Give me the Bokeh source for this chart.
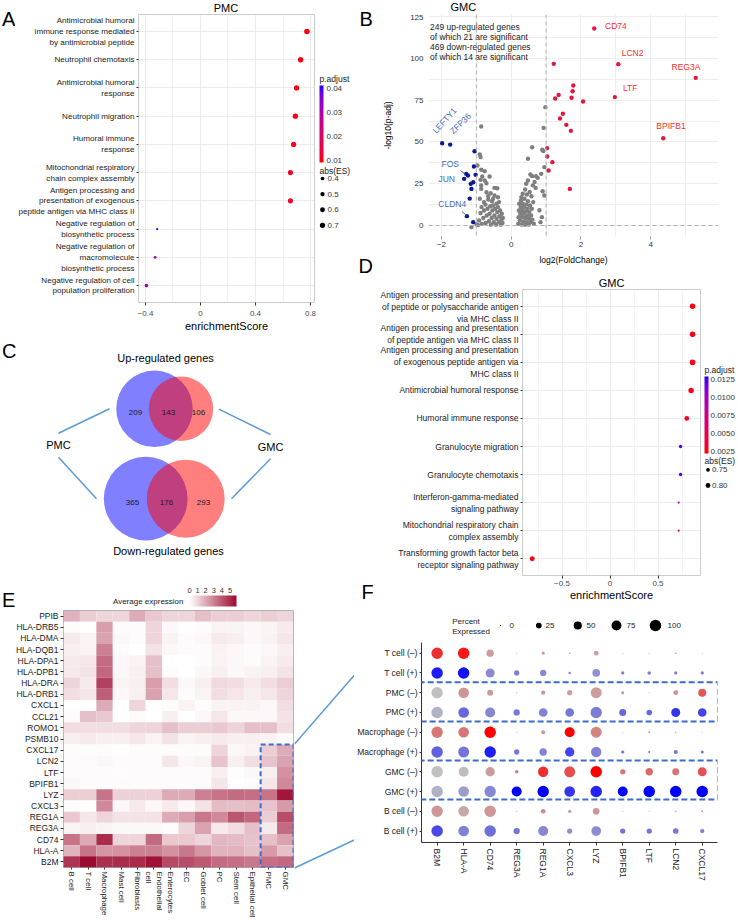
import numpy as np
import pandas as pd
from bokeh.plotting import figure
from bokeh.layouts import row, column
from bokeh.models import (ColumnDataSource, Range1d, FixedTicker, LinearColorMapper, ColorBar,
                          BoxAnnotation, Span)
from bokeh.core.properties import value
from bokeh.embed import file_html
from bokeh.resources import INLINE

FONT = "Liberation Sans"

# ======================= DATA =======================
# --- A: PMC GSEA ---
pmc_terms = [
    "Antimicrobial humoral\nimmune response mediated\nby antimicrobial peptide",
    "Neutrophil chemotaxis",
    "Antimicrobial humoral\nresponse",
    "Neutrophil migration",
    "Humoral immune\nresponse",
    "Mitochondrial respiratory\nchain complex assembly",
    "Antigen processing and\npresentation of exogenous\npeptide antigen via MHC class II",
    "Negative regulation of\nbiosynthetic process",
    "Negative regulation of\nmacromolecule\nbiosynthetic process",
    "Negative regulation of cell\npopulation proliferation",
]
pmc_es = [0.774, 0.728, 0.699, 0.690, 0.677, 0.654, 0.654, -0.315, -0.330, -0.393]
pmc_padj = [0.0100, 0.0102, 0.0108, 0.0110, 0.0113, 0.0118, 0.0120, 0.0400, 0.0330, 0.0310]
pmc_padj_breaks = [0.01, 0.02, 0.03, 0.04]
pmc_abs_breaks = [0.4, 0.5, 0.6, 0.7]
pmc_es_ticks = [-0.4, 0.0, 0.4, 0.8]

# --- B: GMC volcano ---
up_x = [2.38, 3.07, 5.29, 2.97, 4.36, 1.22, 1.78, 1.76, 1.36, 1.26, 1.73, 2.06, 1.48, 1.40, 1.58,
        1.71, 1.03, 1.03, 1.18, 1.07, 1.68]
up_y = [117.8, 96.5, 88.3, 76.8, 52.2, 96.7, 83.7, 80.3, 78.1, 76.0, 76.4, 74.2, 66.8, 64.0, 60.2,
        56.6, 46.3, 41.3, 37.9, 32.9, 21.9]
down_x = [-1.98, -1.75, -1.05, -1.07, -1.29, -1.24, -1.02, -1.35, -1.09, -1.16, -1.14, -1.19, -1.27, -1.09]
down_y = [49.2, 48.4, 44.4, 35.3, 30.9, 29.9, 30.3, 27.9, 25.9, 24.9, 21.9, 16.1, 5.6, 2.0]
ns_x = [-0.86, -0.90, -0.88, -0.97, -0.86, -0.76, -0.62, -0.83, -0.88, -0.76, -0.71, -0.86, -0.48, -0.40,
        -0.86, -0.71, -0.59, -0.48, -0.38, -0.90, -0.78, -0.66, -0.55, -0.42,
        -0.92, -0.88, -0.85, -0.84, -0.80, -0.78, -0.74, -0.73, -0.70, -0.68, -0.64, -0.62, -0.60, -0.58,
        -0.56, -0.54, -0.52, -0.50, -0.48, -0.46, -0.44, -0.42, -0.40, -0.38, -0.36, -0.34, -0.32, -0.30,
        -0.28, -0.27, -0.25, -0.24, -0.66, -0.52, -1.14, -0.99, -0.95, -0.35,
        0.98, 0.93, 0.60, 0.89, 0.92, 0.48, 0.95, 0.86, 0.55, 0.60, 0.71, 0.76, 0.48, 0.67, 0.43, 0.62,
        0.70, 0.90, 0.33, 0.29, 0.95, 0.81, 0.84, 0.88, 0.40, 0.53,
        0.20, 0.21, 0.22, 0.23, 0.25, 0.26, 0.27, 0.28, 0.30, 0.31, 0.32, 0.33, 0.35, 0.36, 0.37, 0.38,
        0.40, 0.41, 0.42, 0.43, 0.45, 0.46, 0.47, 0.48, 0.50, 0.51, 0.52, 0.54, 0.56, 0.57, 0.59, 0.61,
        0.58, 0.45, 0.65, 0.63]
ns_y = [59.2, 42.5, 40.9, 35.9, 33.3, 32.5, 29.3, 29.3, 27.3, 26.9, 25.3, 23.9, 22.5, 22.3,
        21.9, 19.9, 19.3, 17.9, 16.9, 16.0, 13.9, 15.5, 14.5, 13.0,
        3.0, 7.5, 11.0, 1.0, 4.5, 9.0, 12.5, 1.5, 6.0, 10.0, 2.5, 7.0, 11.5, 0.5,
        4.5, 9.0, 12.0, 2.0, 6.0, 10.0, 0.5, 4.0, 8.0, 11.0, 2.0, 5.5, 9.0, 0.5,
        3.5, 7.0, 1.5, 4.5, 17.5, 16.0, -1.0, 0.6, 0.2, 14.0,
        70.8, 58.4, 46.8, 45.3, 44.5, 39.9, 34.9, 30.9, 30.5, 29.5, 29.5, 28.5, 26.9, 26.0, 25.0, 24.0,
        22.5, 20.5, 19.0, 17.0, 17.9, 9.1, 2.0, 5.0, 21.5, 20.0,
        1.0, 5.0, 9.0, 13.0, 3.0, 7.0, 11.0, 15.0, 0.5, 5.0, 9.0, 13.0, 2.5, 7.0, 11.0, 16.0,
        0.5, 4.5, 8.5, 12.5, 2.0, 6.0, 10.0, 14.5, 0.5, 4.0, 8.0, 12.0, 2.0, 6.0, 10.0, 3.5,
        17.5, 18.5, 1.0, 14.0]
up_genes = ["CD74", "LCN2", "REG3A", "LTF", "BPIFB1"]
up_gene_x = [3.00, 3.48, 5.01, 3.41, 4.58]
up_gene_y = [119.4, 103.1, 94.9, 82.1, 59.8]
down_genes = ["LEFTY1", "ZFP36", "FOS", "JUN", "CLDN4"]
down_gene_x = [-1.91, -1.46, -1.75, -1.85, -1.69]
down_gene_y = [62.8, 61.0, 36.7, 27.6, 12.7]
down_gene_angle = [48, 44, 0, 0, 0]
volcano_note = ["249 up-regulated genes", "of which 21 are significant",
                "469 down-regulated genes", "of which 14 are significant"]

# --- C: Venn ---
venn_sets = ["PMC", "GMC"]
venn_up = [209, 143, 106]      # PMC only, shared, GMC only
venn_down = [365, 176, 293]

# --- D: GMC GSEA ---
gmc_terms = [
    "Antigen processing and presentation\nof peptide or polysaccharide antigen\nvia MHC class II",
    "Antigen processing and presentation\nof peptide antigen via MHC class II",
    "Antigen processing and presentation\nof exogenous peptide antigen via\nMHC class II",
    "Antimicrobial humoral response",
    "Humoral immune response",
    "Granulocyte migration",
    "Granulocyte chemotaxis",
    "Interferon-gamma-mediated\nsignaling pathway",
    "Mitochondrial respiratory chain\ncomplex assembly",
    "Transforming growth factor beta\nreceptor signaling pathway",
]
gmc_es = [0.860, 0.860, 0.860, 0.845, 0.800, 0.735, 0.735, 0.715, 0.715, -0.810]
gmc_padj = [0.0025, 0.0026, 0.0027, 0.0028, 0.0030, 0.0125, 0.0123, 0.0090, 0.0050, 0.0026]
gmc_padj_breaks = [0.0025, 0.0050, 0.0075, 0.0100, 0.0125]
gmc_abs_breaks = [0.75, 0.80]
gmc_es_ticks = [-0.5, 0.0, 0.5]

# --- E: heatmap of average expression ---
cell_types = ["B cell", "T cell", "Macrophage", "Mast cell", "Fibroblasts", "Endothelial\ncell",
              "Enterocytes", "EC", "Goblet cell", "PC", "Stem cell", "Epithelial cell", "PMC", "GMC"]
heat_genes = ["PPIB", "HLA-DRB5", "HLA-DMA", "HLA-DQB1", "HLA-DPA1", "HLA-DPB1", "HLA-DRA", "HLA-DRB1",
              "CXCL1", "CCL21", "ROMO1", "PSMB10", "CXCL17", "LCN2", "LTF", "BPIFB1", "LYZ", "CXCL3",
              "REG1A", "REG3A", "CD74", "HLA-A", "B2M"]
e_PPIB = [1.8, 1.2, 1.0, 1.0, 2.0, 1.3, 1.0, 1.0, 1.5, 1.2, 1.2, 1.0, 1.2, 1.0]
e_HLA_DRB5 = [0.1, 0.0, 2.3, 0.1, 0.1, 1.0, 0.2, 0.0, 0.1, 0.3, 0.3, 0.2, 0.3, 0.5]
e_HLA_DMA = [0.5, 0.3, 2.2, 0.2, 0.1, 1.0, 0.3, 0.1, 0.2, 0.5, 0.4, 0.2, 0.3, 0.6]
e_HLA_DQB1 = [0.4, 0.3, 3.0, 0.1, 0.0, 0.7, 0.2, 0.1, 0.1, 0.3, 0.2, 0.1, 0.2, 0.4]
e_HLA_DPA1 = [0.5, 0.6, 3.5, 0.2, 0.3, 1.5, 0.0, 0.0, 0.1, 0.3, 0.2, 0.1, 0.3, 0.5]
e_HLA_DPB1 = [0.5, 0.7, 3.6, 0.2, 0.4, 1.5, 0.1, 0.0, 0.2, 0.4, 0.2, 0.3, 0.4, 0.7]
e_HLA_DRA = [1.0, 0.5, 4.5, 0.3, 0.4, 2.3, 0.8, 0.2, 0.4, 0.9, 0.8, 0.5, 0.8, 1.2]
e_HLA_DRB1 = [0.8, 0.6, 3.8, 0.2, 0.4, 2.2, 0.6, 0.1, 0.3, 0.8, 0.6, 0.4, 0.6, 1.0]
e_CXCL1 = [0.0, 0.0, 2.0, 0.0, 1.0, 0.0, 0.1, 0.3, 0.1, 0.3, 0.3, 0.3, 0.2, 0.8]
e_CCL21 = [0.1, 1.5, 1.3, 0.0, 0.1, 0.0, 0.4, 0.0, 0.2, 0.6, 0.2, 0.2, 0.2, 0.7]
e_ROMO1 = [0.8, 0.8, 0.8, 0.8, 1.0, 1.0, 1.5, 1.2, 1.2, 1.3, 1.0, 1.5, 1.5, 0.8]
e_PSMB10 = [0.4, 0.5, 0.4, 0.4, 0.6, 0.3, 0.7, 0.3, 0.4, 0.5, 0.4, 0.4, 0.3, 0.1]
e_CXCL17 = [0.1, 0.05, 0.1, 0.0, 0.1, 0.1, 0.1, 0.1, 0.1, 1.0, 0.2, 0.3, 1.2, 2.0]
e_LCN2 = [0.1, 0.1, 0.2, 0.1, 0.1, 0.1, 0.6, 0.2, 0.3, 1.4, 0.4, 0.8, 1.4, 2.2]
e_LTF = [0.1, 0.1, 0.1, 0.05, 0.1, 0.1, 0.1, 0.1, 0.1, 0.4, 0.05, 0.2, 0.4, 2.6]
e_BPIFB1 = [0.2, 0.1, 0.1, 0.1, 0.1, 0.1, 0.1, 0.1, 0.1, 0.6, 0.0, 0.1, 0.6, 2.8]
e_LYZ = [1.2, 1.2, 3.3, 1.1, 1.1, 1.1, 2.0, 2.0, 3.0, 3.3, 3.5, 3.4, 3.3, 5.5]
e_CXCL3 = [0.1, 0.0, 2.8, 0.2, 0.5, 0.2, 0.5, 0.2, 0.7, 1.6, 1.5, 1.6, 1.4, 2.4]
e_REG1A = [1.3, 0.6, 1.0, 0.7, 0.7, 0.7, 2.0, 2.3, 3.2, 2.8, 4.0, 3.6, 1.2, 4.2]
e_REG3A = [0.3, 0.4, 0.3, 0.2, 0.2, 0.2, 0.1, 1.0, 2.2, 0.5, 0.8, 1.5, 0.5, 3.5]
e_CD74 = [3.3, 2.0, 5.0, 1.0, 1.0, 3.5, 1.3, 1.3, 1.0, 1.7, 1.6, 1.4, 1.5, 2.2]
e_HLA_A = [1.8, 3.3, 2.5, 2.6, 3.0, 3.0, 2.6, 3.2, 2.5, 1.8, 1.8, 1.5, 2.4, 1.5]
e_B2M = [4.8, 5.8, 4.9, 5.0, 5.0, 5.6, 4.3, 4.2, 3.9, 3.5, 3.4, 3.2, 3.4, 3.6]
heat_rows = [e_PPIB, e_HLA_DRB5, e_HLA_DMA, e_HLA_DQB1, e_HLA_DPA1, e_HLA_DPB1, e_HLA_DRA, e_HLA_DRB1,
             e_CXCL1, e_CCL21, e_ROMO1, e_PSMB10, e_CXCL17, e_LCN2, e_LTF, e_BPIFB1, e_LYZ, e_CXCL3,
             e_REG1A, e_REG3A, e_CD74, e_HLA_A, e_B2M]
heat_breaks = [0, 1, 2, 3, 4, 5]

# --- F: split dot plot ---
dot_genes = ["B2M", "HLA-A", "CD74", "REG3A", "REG1A", "CXCL3", "LYZ", "BPIFB1", "LTF", "LCN2", "CXCL17"]
dot_groups = ["T cell (–)", "T cell (+)", "PMC (–)", "PMC (+)", "Macrophage (–)", "Macrophage (+)",
              "GMC (–)", "GMC (+)", "B cell (–)", "B cell (+)"]
pct_T_neg = [100, 100, 41, 1, 8, 2, 17, 1, 1, 2, 1]
pct_T_pos = [100, 100, 61, 21, 30, 5, 45, 8, 10, 8, 8]
pct_PMC_neg = [97, 86, 27, 1, 14, 21, 91, 7, 1, 17, 48]
pct_PMC_pos = [100, 86, 76, 30, 57, 57, 97, 37, 24, 61, 57]
pct_Mac_neg = [97, 86, 100, 0.5, 12, 76, 91, 0.5, 3, 2, 0.5]
pct_Mac_pos = [100, 91, 100, 21, 41, 66, 81, 8, 3, 12, 7]
pct_GMC_neg = [100, 76, 66, 10, 81, 91, 100, 21, 41, 37, 61]
pct_GMC_pos = [100, 86, 97, 76, 100, 86, 100, 76, 100, 100, 100]
pct_B_neg = [100, 86, 100, 1, 17, 8, 34, 0.5, 1, 2, 3]
pct_B_pos = [100, 86, 100, 30, 76, 21, 71, 21, 21, 24, 14]
exp_T_neg = [0.75, 0.88, 0.18, 0.15, 0.20, 0.15, 0.18, 0.15, 0.15, 0.18, 0.15]
exp_T_pos = [0.85, 0.90, 0.28, 0.35, 0.30, 0.30, 0.25, 0.35, 0.35, 0.35, 0.35]
exp_PMC_neg = [0.00, 0.22, 0.22, 0.20, 0.22, 0.18, 0.18, 0.25, 0.20, 0.25, 0.55]
exp_PMC_pos = [0.08, 0.45, 0.30, 0.38, 0.33, 0.38, 0.35, 0.45, 0.45, 0.72, 0.65]
exp_Mac_neg = [0.38, 0.38, 1.00, 0.15, 0.22, 1.00, 0.32, 0.15, 0.20, 0.20, 0.15]
exp_Mac_pos = [0.50, 0.40, 0.85, 0.38, 0.33, 0.65, 0.33, 0.40, 0.40, 0.40, 0.40]
exp_GMC_neg = [0.00, 0.02, 0.18, 0.35, 0.75, 0.60, 1.00, 0.40, 0.45, 0.40, 0.58]
exp_GMC_pos = [0.08, 0.18, 0.30, 1.00, 1.00, 0.72, 0.82, 1.00, 1.00, 1.00, 1.00]
exp_B_neg = [0.22, 0.12, 0.22, 0.20, 0.28, 0.20, 0.22, 0.20, 0.20, 0.20, 0.25]
exp_B_pos = [0.62, 0.33, 0.42, 0.38, 0.30, 0.25, 0.28, 0.40, 0.40, 0.38, 0.35]
dot_pct = [pct_T_neg, pct_T_pos, pct_PMC_neg, pct_PMC_pos, pct_Mac_neg, pct_Mac_pos,
           pct_GMC_neg, pct_GMC_pos, pct_B_neg, pct_B_pos]
dot_exp = [exp_T_neg, exp_T_pos, exp_PMC_neg, exp_PMC_pos, exp_Mac_neg, exp_Mac_pos,
           exp_GMC_neg, exp_GMC_pos, exp_B_neg, exp_B_pos]
pct_breaks = [0, 25, 50, 75, 100]


# ======================= HELPERS =======================
def hex2rgb(h):
    return np.array([int(h[i:i + 2], 16) for i in (1, 3, 5)], float)


def rgb_palette(c0, c1, n=256):
    a, b = hex2rgb(c0), hex2rgb(c1)
    return ["#%02x%02x%02x" % tuple(np.round(a + (b - a) * t).astype(int)) for t in np.linspace(0, 1, n)]


def lab_palette(c0, c1, n=256):
    M = np.array([[0.4124564, 0.3575761, 0.1804375], [0.2126729, 0.7151522, 0.0721750],
                  [0.0193339, 0.1191920, 0.9503041]])
    wp = np.array([0.95047, 1.0, 1.08883])
    d = 6 / 29

    def lin(c):
        return np.where(c <= 0.04045, c / 12.92, ((c + 0.055) / 1.055) ** 2.4)

    def delin(c):
        c = np.clip(c, 0, 1)
        return np.where(c <= 0.0031308, 12.92 * c, 1.055 * c ** (1 / 2.4) - 0.055)

    def f(t):
        return np.where(t > d ** 3, np.cbrt(t), t / (3 * d * d) + 4 / 29)

    def finv(t):
        return np.where(t > d, t ** 3, 3 * d * d * (t - 4 / 29))

    def to_lab(hx):
        fx, fy, fz = f(M @ lin(hex2rgb(hx) / 255) / wp)
        return np.array([116 * fy - 16, 500 * (fx - fy), 200 * (fy - fz)])

    def from_lab(lab):
        fy = (lab[0] + 16) / 116
        xyz = np.array([finv(fy + lab[1] / 500), finv(fy), finv(fy - lab[2] / 200)]) * wp
        return delin(np.linalg.inv(M) @ xyz)

    l0, l1 = to_lab(c0), to_lab(c1)
    out = []
    for t in np.linspace(0, 1, n):
        r, g, b = np.round(from_lab(l0 * (1 - t) + l1 * t) * 255).astype(int)
        out.append("#%02x%02x%02x" % (r, g, b))
    return out


def base(p):
    p.background_fill_color = "white"
    p.border_fill_color = "white"
    p.outline_line_color = None
    p.grid.visible = False
    return p


def strip(x0, y0, w, h):
    """a figure whose frame is its whole canvas; its data units are page pixels (y down)"""
    p = figure(width=w, height=h, x_range=Range1d(x0, x0 + w), y_range=Range1d(y0 + h, y0),
               output_backend="svg", toolbar_location=None, title=None, frame_align=False,
               x_axis_location=None, y_axis_location=None,
               min_border_left=0, min_border_right=0, min_border_top=0, min_border_bottom=0)
    return base(p)


def main_fig(cx, cy, w, h, fl, ft, fr, fb, x0, x1, y0, y1):
    p = figure(width=w, height=h, x_range=Range1d(x0, x1), y_range=Range1d(y0, y1),
               output_backend="svg", toolbar_location=None, title=None, frame_align=False,
               min_border_left=fl - cx, min_border_top=ft - cy,
               min_border_right=cx + w - fr, min_border_bottom=cy + h - fb)
    return base(p)


def stext(p, x, y, s, size=8.5, color="#1a1a1a", align="left", angle=0.0):
    p.text(x=[x], y=[y], text=[s], angle=angle, text_font=value(FONT), text_font_size=value(f"{size}px"),
           text_color=color, text_align=align, text_baseline="middle")


def letter(p, x, ymid, s):
    stext(p, x, ymid, s, size=20, color="#000000")


def style_axis(ax, size, color="#1a1a1a", tick=3, standoff=3):
    ax.major_label_text_font = FONT
    ax.major_label_text_font_size = f"{size}px"
    ax.major_label_text_color = color
    ax.axis_label_text_font = FONT
    ax.axis_label_text_font_style = "normal"
    ax.axis_label_text_color = "#000000"
    ax.major_tick_out = tick
    ax.major_tick_in = 0
    ax.major_tick_line_color = "#333333" if tick > 0 else None
    ax.minor_tick_line_color = None
    ax.major_label_standoff = standoff


def bar(p, mapper, left, top, w, h, orientation="vertical"):
    """colour bar placed at page pixels inside a strip figure"""
    x0 = p.x_range.start
    ybot = p.y_range.start
    cb = ColorBar(color_mapper=mapper, orientation=orientation, width=w, height=h,
                  location=(left - x0, ybot - (top + h)), padding=0, margin=0,
                  ticker=FixedTicker(ticks=[]), bar_line_color=None, major_tick_line_color=None,
                  minor_tick_line_color=None, major_label_text_font_size="0px",
                  background_fill_alpha=0, title=None, label_standoff=0)
    p.add_layout(cb, "center")


def dashed_box(p, left, right, top, bottom, dash):
    p.add_layout(BoxAnnotation(left=left, right=right, top=top, bottom=bottom,
                               fill_color=None, fill_alpha=0, line_color="#3C6DCB", line_alpha=1.0,
                               line_width=2, line_dash=dash))


def enrich_panel(geo, terms, es, padj, ticks, minor, overrides, mapper, size_fn, ylab_size):
    p = main_fig(*geo)
    p.outline_line_color = "#cccccc"
    p.grid.visible = True
    p.xaxis.ticker = FixedTicker(ticks=ticks, minor_ticks=minor)
    p.xaxis.major_label_overrides = overrides
    p.yaxis.ticker = FixedTicker(ticks=list(range(len(terms))))
    p.yaxis.major_label_overrides = {i: s for i, s in enumerate(terms)}
    p.xgrid.grid_line_color = "#ebebeb"
    p.xgrid.minor_grid_line_color = "#f3f3f3"
    p.ygrid.grid_line_color = "#ebebeb"
    style_axis(p.yaxis[0], ylab_size, "#1a1a1a", tick=2, standoff=2)
    style_axis(p.xaxis[0], 8, "#4d4d4d", tick=3, standoff=4)
    p.xaxis.axis_line_color = None
    p.yaxis.axis_line_color = None
    p.xaxis.axis_label = "enrichmentScore"
    p.xaxis.axis_label_text_font_size = "11px"
    p.xaxis.axis_label_standoff = 1
    src = ColumnDataSource(dict(es=es, y=list(range(len(terms))), padj=padj,
                                size=[size_fn(v) for v in es]))
    p.scatter("es", "y", size="size", source=src, line_color=None,
              fill_color={"field": "padj", "transform": mapper})
    return p


# ======================= A =======================
aminA, amaxA = min(abs(v) for v in pmc_es), max(abs(v) for v in pmc_es)


def sizeA(v):
    t = min(max((abs(v) - aminA) / (amaxA - aminA), 0), 1)
    return 2.3 + 3.3 * np.sqrt(t)


lowA, highA = 0.00904, 0.04125
mapA = LinearColorMapper(palette=lab_palette("#FF0000", "#0000FF"), low=lowA, high=highA)
pA = enrich_panel((15, 14, 303, 321, 137, 14, 314, 302, -0.4506, 0.8290, 9.6, -0.6),
                  pmc_terms, pmc_es, pmc_padj, pmc_es_ticks, [-0.2, 0.2, 0.6], {}, mapA, sizeA, 8.1)
pA_letter = strip(0, 0, 15, 335)
letter(pA_letter, 1.5, 18.8, "A")
pA_title = strip(15, 0, 303, 14)
stext(pA_title, 225.5, 7.0, "PMC", size=11, color="#000000", align="center")
pA_leg = strip(318, 0, 36, 335)
barA = (319, 85, 4, 77)
bar(pA_leg, mapA, *barA)
stext(pA_leg, 319, 78, "p.adjust", size=8.5)
for v in pmc_padj_breaks:
    yy = barA[1] + barA[3] - (v - lowA) / (highA - lowA) * barA[3]
    stext(pA_leg, 326, yy, f"{v:.2f}", size=8, color="#333333")
stext(pA_leg, 319, 170, "abs(ES)", size=8.5)
legA_y = [178 + 15.6 * k for k in range(len(pmc_abs_breaks))]
pA_leg.scatter([322] * len(pmc_abs_breaks), legA_y, size=[sizeA(v) for v in pmc_abs_breaks],
               fill_color="#000000", line_color=None)
for v, yy in zip(pmc_abs_breaks, legA_y):
    stext(pA_leg, 327, yy, f"{v:.1f}", size=8, color="#333333")

# ======================= C =======================
pC = strip(0, 335, 354, 245)
k_up, k_dn = 2.04, 1.80
r_up = [k_up * np.sqrt(venn_up[0] + venn_up[1]), k_up * np.sqrt(venn_up[1] + venn_up[2])]
r_dn = [k_dn * np.sqrt(venn_down[0] + venn_down[1]), k_dn * np.sqrt(venn_down[1] + venn_down[2])]
pC.circle(x=[154, 145.2], y=[408.3, 498.2], radius=[r_up[0], r_dn[0]],
          fill_color="#0000FF", fill_alpha=0.5, line_color=None)
pC.circle(x=[180.5, 185.2], y=[408.3, 498.2], radius=[r_up[1], r_dn[1]],
          fill_color="#FF0000", fill_alpha=0.5, line_color=None)
pC.text(x=[135, 168, 198, 132, 166, 203], y=[412, 412, 412, 502, 502, 502],
        text=[str(v) for v in venn_up + venn_down], text_font=value(FONT), text_font_size=value("8px"),
        text_color="#1a1a1a", text_align="center", text_baseline="middle")
pC.segment(x0=[58, 58, 218.3, 270], y0=[432.7, 456.7, 408.7, 458.3],
           x1=[109, 96, 270, 231], y1=[408.3, 498.3, 434, 498.3], line_color="#5B9BD5", line_width=1.5)
stext(pC, 165, 357, "Up-regulated genes", size=11, color="#000000", align="center")
stext(pC, 168, 550, "Down-regulated genes", size=11, color="#000000", align="center")
stext(pC, 58, 444, venn_sets[0], size=11, color="#000000", align="center")
stext(pC, 270, 446, venn_sets[1], size=11, color="#000000", align="center")
letter(pC, 1.5, 350.5, "C")

# ======================= E =======================
pE_top = strip(0, 580, 354, 30)
letter(pE_top, 1.5, 599, "E")
mapE = LinearColorMapper(palette=rgb_palette("#FFFFFF", "#9C0A2E"), low=0, high=5.8)
barE = (189, 595, 47, 11)
bar(pE_top, mapE, *barE, orientation="horizontal")
for v in heat_breaks:
    stext(pE_top, barE[0] + v / 5.8 * barE[2], 589.5, str(v), size=7.5, color="#333333", align="center")
stext(pE_top, 183, 600.5, "Average expression", size=8, align="right")

pE = main_fig(0, 610, 294, 310, 63, 610, 293, 868, 0, 14, 23, 0)
pE.outline_line_color = "#a6a6a6"
recs = []
for gi, gname in enumerate(heat_genes):
    for ci, cname in enumerate(cell_types):
        recs.append(dict(x=ci + 0.5, y=gi + 0.5, v=heat_rows[gi][ci]))
heat_df = pd.DataFrame(recs)
pE.rect(x="x", y="y", width=1, height=1, source=ColumnDataSource(heat_df),
        fill_color={"field": "v", "transform": mapE}, line_color=None)
pE.xaxis.ticker = FixedTicker(ticks=[i + 0.5 for i in range(len(cell_types))])
pE.xaxis.major_label_overrides = {i + 0.5: s for i, s in enumerate(cell_types)}
pE.yaxis.ticker = FixedTicker(ticks=[i + 0.5 for i in range(len(heat_genes))])
pE.yaxis.major_label_overrides = {i + 0.5: s for i, s in enumerate(heat_genes)}
pE.xaxis.major_label_orientation = "vertical"
style_axis(pE.xaxis[0], 7.9, "#1a1a1a", tick=2, standoff=2)
style_axis(pE.yaxis[0], 8.5, "#1a1a1a", tick=3, standoff=2)
pE.xaxis.axis_line_color = None
pE.yaxis.axis_line_color = None
n_pmc = cell_types.index("PMC")
n_box = heat_genes.index("CXCL17")
dashed_box(pE, n_pmc, len(cell_types), n_box, len(heat_genes), "5 3")

# connector lines from E's box corners toward F's first / last rows
row_h = (868 - 610) / len(heat_genes)
box_tr = (293.0, 610 + n_box * row_h)
box_br = (293.0, 868.0)
F_first = (373.0, 652.7)
F_last = (373.0, 652.7 + 19.76 * (len(dot_groups) - 1))
pE_line = strip(294, 610, 60, 310)
xs0, xs1, ys0, ys1 = [], [], [], []
for (ax, ay), (bx, by) in ((box_tr, F_first), (box_br, F_last)):
    for xx, lst_x, lst_y in ((294.0, xs0, ys0), (354.0, xs1, ys1)):
        lst_x.append(xx)
        lst_y.append(ay + (by - ay) * (xx - ax) / (bx - ax))
pE_line.segment(x0=xs0, y0=ys0, x1=xs1, y1=ys1, line_color="#5B9BD5", line_width=1.5)

# ======================= B =======================
pB_letter = strip(354, 0, 26, 276)
letter(pB_letter, 359, 18.8, "B")
letter(pB_letter, 358, 265.5, "D")
pB_title = strip(380, 0, 358, 14)
stext(pB_title, 450, 6.8, "GMC", size=11, color="#000000")

pB = main_fig(380, 14, 358, 262, 427, 14, 718, 236, -2.3714, 5.9429, -6.579, 126.20)
pB.grid.visible = True
pB.xgrid.ticker = FixedTicker(ticks=[-2, -1, 0, 1, 2, 3, 4, 5])
pB.ygrid.ticker = FixedTicker(ticks=[0, 12.5, 25, 37.5, 50, 62.5, 75, 87.5, 100, 112.5, 125])
pB.grid.grid_line_color = "#eeeeee"
pB.xaxis.ticker = FixedTicker(ticks=[-2, 0, 2, 4])
pB.yaxis.ticker = FixedTicker(ticks=[0, 25, 50, 75, 100, 125])
style_axis(pB.xaxis[0], 8, "#333333", tick=3, standoff=2)
style_axis(pB.yaxis[0], 8, "#333333", tick=0, standoff=5)
pB.xaxis.axis_line_color = None
pB.yaxis.axis_line_color = None
pB.xaxis.major_tick_line_color = "#999999"
pB.xaxis.axis_label = "log2(FoldChange)"
pB.yaxis.axis_label = "-log10(p-adj)"
pB.xaxis.axis_label_text_font_size = "8.5px"
pB.yaxis.axis_label_text_font_size = "8.5px"
pB.xaxis.axis_label_standoff = 5
pB.yaxis.axis_label_standoff = 14
for loc, dim in ((-1, "height"), (1, "height"), (0, "width")):
    pB.add_layout(Span(location=loc, dimension=dim, line_color="#b0b0b0", line_dash="4 3", line_width=1))
pB.scatter(ns_x, ns_y, size=4.4, fill_color="#7f7f7f", line_color=None)
pB.scatter(up_x, up_y, size=4.4, fill_color="#E3173E", line_color=None)
pB.scatter(down_x, down_y, size=4.4, fill_color="#0A1A8A", line_color=None)
pB.text(x=up_gene_x, y=up_gene_y, text=up_genes, text_font=value(FONT), text_font_size=value("8.5px"),
        text_color="#FF2B2B", text_align="center", text_baseline="middle")
pB.text(x=down_gene_x, y=down_gene_y, text=down_genes, angle=[np.deg2rad(a) for a in down_gene_angle],
        text_font=value(FONT), text_font_size=value("8.5px"), text_color="#3F68BE",
        text_align="center", text_baseline="middle")
pB.segment(x0=[-1.457, -1.409], y0=[32.9, 8.4], x1=[-1.334, -1.286], y1=[30.9, 6.0],
           line_color="#3F68BE", line_width=1)
note_y = [119.0 - 6.0 * k for k in range(len(volcano_note))]
pB.text(x=[-2.33] * len(volcano_note), y=note_y, text=volcano_note, text_font=value(FONT),
        text_font_size=value("8.5px"), text_color="#222222", text_align="left", text_baseline="middle")

# ======================= D =======================
aminD, amaxD = min(abs(v) for v in gmc_es), max(abs(v) for v in gmc_es)


def sizeD(v):
    t = min(max((abs(v) - aminD) / (amaxD - aminD), 0), 1)
    return 2.1 + 3.5 * np.sqrt(t)


lowD, highD = 0.00218, 0.01292
mapD = LinearColorMapper(palette=lab_palette("#FF0000", "#0000FF"), low=lowD, high=highD)
pD_title = strip(354, 276, 384, 13)
stext(pD_title, 611, 282.5, "GMC", size=11, color="#000000", align="center")
pD_left = strip(354, 289, 22, 314)
letter(pD_left, 361, 591.5, "F")
pD = enrich_panel((376, 289, 326, 314, 522, 289, 700, 576, -0.9115, 0.9427, 9.6, -0.6),
                  gmc_terms, gmc_es, gmc_padj, gmc_es_ticks, [-0.75, -0.25, 0.25, 0.75], {0: "0"},
                  mapD, sizeD, 8.5)
pD.xaxis.major_label_standoff = 1
pD.xaxis.axis_label_standoff = 0
pD_leg = strip(702, 289, 36, 314)
barD = (704, 376, 4, 77)
bar(pD_leg, mapD, *barD)
stext(pD_leg, 704, 369, "p.adjust", size=8.5)
for v in gmc_padj_breaks:
    yy = barD[1] + barD[3] - (v - lowD) / (highD - lowD) * barD[3]
    stext(pD_leg, 710, yy, f"{v:.4f}", size=8, color="#333333")
stext(pD_leg, 704, 460.7, "abs(ES)", size=8.5)
legD_y = [469.3 + 15.7 * k for k in range(len(gmc_abs_breaks))]
pD_leg.scatter([707.5] * len(gmc_abs_breaks), legD_y, size=[sizeD(v) for v in gmc_abs_breaks],
               fill_color="#000000", line_color=None)
for v, yy in zip(gmc_abs_breaks, legD_y):
    stext(pD_leg, 711.5, yy, f"{v:.2f}", size=8, color="#333333")

# ======================= F =======================


def sizeF(pct):
    return max(1.0, 11.5 * np.sqrt(pct / 100.0))


pF_top = strip(354, 603, 384, 39)
stext(pF_top, 451.7, 620.7, "Percent", size=8)
stext(pF_top, 451.7, 631, "Expressed", size=8)
legF_x = [500, 538.3, 577.3, 616, 655]
pF_top.scatter(legF_x, [625] * len(pct_breaks), size=[sizeF(v) for v in pct_breaks],
               fill_color="#000000", line_color=None)
for v, lx in zip(pct_breaks, [509, 545, 586, 626, 667]):
    stext(pF_top, lx, 625, str(v), size=8)

pF = main_fig(354, 642, 384, 278, 420, 642, 717, 842, -0.5902, 10.5752, 9.5799, -0.5415)
rows_neg, rows_pos = [], []
for j, grp in enumerate(dot_groups):
    for i, gene in enumerate(dot_genes):
        rec = dict(x=i, y=j, pct=dot_pct[j][i], e=dot_exp[j][i], size=sizeF(dot_pct[j][i]))
        (rows_neg if "(–)" in grp else rows_pos).append(rec)
map_neg = LinearColorMapper(palette=rgb_palette("#C0C0C0", "#FF0000"), low=0, high=1)
map_pos = LinearColorMapper(palette=rgb_palette("#C0C0C0", "#0000FF"), low=0, high=1)
pF.scatter("x", "y", size="size", source=ColumnDataSource(pd.DataFrame(rows_neg)), line_color=None,
           fill_color={"field": "e", "transform": map_neg})
pF.scatter("x", "y", size="size", source=ColumnDataSource(pd.DataFrame(rows_pos)), line_color=None,
           fill_color={"field": "e", "transform": map_pos})
pF.xaxis.ticker = FixedTicker(ticks=list(range(len(dot_genes))))
pF.xaxis.major_label_overrides = {i: s for i, s in enumerate(dot_genes)}
pF.yaxis.ticker = FixedTicker(ticks=list(range(len(dot_groups))))
pF.yaxis.major_label_overrides = {i: s for i, s in enumerate(dot_groups)}
pF.xaxis.major_label_orientation = "vertical"
style_axis(pF.xaxis[0], 8.5, "#1a1a1a", tick=3, standoff=3)
style_axis(pF.yaxis[0], 8.5, "#1a1a1a", tick=2, standoff=2)
pF.axis.axis_line_color = "#333333"
fx = lambda X: -0.5902 + (X - 420) / (717 - 420) * (10.5752 + 0.5902)
fy = lambda Y: (Y - 652.7) / 19.76
for top, bot in ((681.7, 721), (760, 799)):
    dashed_box(pF, fx(372), fx(717.5), fy(top), fy(bot), "6 3")

# ======================= LAYOUT =======================
left_col = column(
    row(pA_letter, column(pA_title, pA), pA_leg),
    pC,
    column(pE_top, row(pE, pE_line)),
)
right_col = column(
    row(pB_letter, column(pB_title, pB)),
    column(pD_title, row(pD_left, pD, pD_leg)),
    column(pF_top, pF),
)
p = row(left_col, right_col)
open("out.html", "w").write(file_html(p, INLINE))
